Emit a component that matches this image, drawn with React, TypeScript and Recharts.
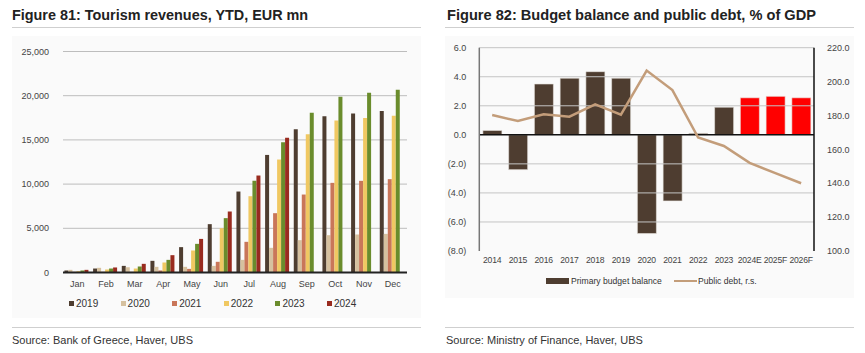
import React from 'react';
import { BarChart, Bar, XAxis, YAxis, CartesianGrid, ComposedChart, Line, Cell, ReferenceLine } from 'recharts';

// ---------- Figure 81 data ----------
const months = ['Jan', 'Feb', 'Mar', 'Apr', 'May', 'Jun', 'Jul', 'Aug', 'Sep', 'Oct', 'Nov', 'Dec'];
const rev2019 = [230, 450, 750, 1320, 2870, 5470, 9160, 13300, 16210, 17680, 17980, 18280];
const rev2020 = [300, 530, 600, 640, 640, 750, 1430, 2790, 3660, 4220, 4300, 4370];
const rev2021 = [75, 75, 75, 230, 410, 1210, 3470, 6710, 8820, 10140, 10370, 10560];
const rev2022 = [150, 340, 450, 1130, 2490, 5010, 8630, 12780, 15650, 17190, 17490, 17720];
const rev2023 = [230, 450, 680, 1430, 3240, 6150, 10370, 14740, 18060, 19870, 20320, 20660];
const rev2024 = [300, 570, 980, 1960, 3800, 6900, 10970, 15230, null, null, null, null];
const tourismYears = ['2019', '2020', '2021', '2022', '2023', '2024'];
const tourismTicks = [0, 5000, 10000, 15000, 20000, 25000];

// ---------- Figure 82 data ----------
const fiscalYears = ['2014', '2015', '2016', '2017', '2018', '2019', '2020', '2021', '2022', '2023', '2024E', '2025F', '2026F'];
const primaryBalance = [0.3, -2.4, 3.5, 3.9, 4.35, 3.9, -6.8, -4.55, 0.1, 1.9, 2.55, 2.65, 2.55];
const publicDebt = [180.3, 176.7, 180.7, 179.3, 186.5, 180.5, 206.5, 195, 167, 162, 152, 146, 140];
const balanceTicks = [-8, -6, -4, -2, 0, 2, 4, 6];
const debtTicks = [100, 120, 140, 160, 180, 200, 220];

const tourismColors = ['#4e3d30', '#d6c19f', '#c97659', '#f0c862', '#6a8c2c', '#992b1f'];
const FONT = '"Liberation Sans", Arial, sans-serif';

const tourismData = months.map((m, i) => ({
  month: m,
  y2019: rev2019[i],
  y2020: rev2020[i],
  y2021: rev2021[i],
  y2022: rev2022[i],
  y2023: rev2023[i],
  y2024: rev2024[i],
}));

const fiscalData = fiscalYears.map((y, i) => ({
  year: y,
  balance: primaryBalance[i],
  debt: publicDebt[i],
}));

const fmtThousands = (v: number) => v.toLocaleString('en-US');
const fmtParen = (v: number) => (v < 0 ? `(${Math.abs(v).toFixed(1)})` : v.toFixed(1));

const tickStyle = { fontSize: 9, fill: '#444', fontFamily: FONT };
const xTickRight = { fontSize: 8.6, fill: '#444', fontFamily: FONT, letterSpacing: -0.2 };

export default function App() {
  return (
    <div style={{ position: 'absolute', left: 0, top: 0, width: 865, height: 353, background: '#fff', fontFamily: FONT, color: '#222', overflow: 'hidden' }}>
      {/* Left figure */}
      <div style={{ position: 'absolute', left: 12, top: 7, fontSize: 14.4, fontWeight: 'bold', whiteSpace: 'nowrap' }}>
        Figure 81: Tourism revenues, YTD, EUR mn
      </div>
      <div style={{ position: 'absolute', left: 12, top: 27, width: 409, height: 1, background: '#cfcfcf' }} />
      <div style={{ position: 'absolute', left: 12, top: 36, width: 409, height: 282, background: '#fafafa' }} />
      <div style={{ position: 'absolute', left: 0, top: 0 }}>
        <BarChart width={421} height={320} data={tourismData} margin={{ top: 51.5, right: 14, bottom: 27.5, left: 0 }} barCategoryGap="5%" barGap={0}>
          <CartesianGrid vertical={false} stroke="#bdbdbd" strokeWidth={1} />
          <XAxis dataKey="month" height={20} tickLine={false} axisLine={{ stroke: '#222', strokeWidth: 2 }} tick={tickStyle} tickMargin={2} interval={0} />
          <YAxis width={63} domain={[0, 25000]} ticks={tourismTicks} tickFormatter={fmtThousands} axisLine={false} tickLine={false} tick={tickStyle} tickMargin={8} />
          {tourismYears.map((y, i) => (
            <Bar key={y} dataKey={`y${y}`} fill={tourismColors[i]} isAnimationActive={false} />
          ))}
        </BarChart>
      </div>
      {tourismYears.map((y, i) => (
        <div key={y} style={{ position: 'absolute', left: 69 + i * 51.6, top: 297, height: 12, display: 'flex', alignItems: 'center', fontSize: 10, color: '#333' }}>
          <span style={{ display: 'inline-block', width: 5, height: 5, background: tourismColors[i], marginRight: 2 }} />
          {y}
        </div>
      ))}
      <div style={{ position: 'absolute', left: 12, top: 327, width: 409, height: 1, background: '#cfcfcf' }} />
      <div style={{ position: 'absolute', left: 12, top: 334, fontSize: 11, whiteSpace: 'nowrap', color: '#333' }}>
        Source: Bank of Greece, Haver, UBS
      </div>

      {/* Right figure */}
      <div style={{ position: 'absolute', left: 447, top: 7, fontSize: 14.6, fontWeight: 'bold', whiteSpace: 'nowrap' }}>
        Figure 82: Budget balance and public debt, % of GDP
      </div>
      <div style={{ position: 'absolute', left: 445, top: 27, width: 409, height: 1, background: '#cfcfcf' }} />
      <div style={{ position: 'absolute', left: 445, top: 36, width: 409, height: 262, background: '#fafafa' }} />
      <div style={{ position: 'absolute', left: 430, top: 0 }}>
        <ComposedChart width={425} height={300} data={fiscalData} margin={{ top: 47.7, right: 0, bottom: 29, left: 0 }} barCategoryGap="14%">
          {balanceTicks.filter((t) => t !== 0 && t !== -8).map((t) => (
            <ReferenceLine key={t} yAxisId="left" y={t} stroke="#c4c4c4" strokeWidth={1} />
          ))}
          <XAxis dataKey="year" height={20} tickLine={false} axisLine={false} tick={xTickRight} tickMargin={0} interval={0} />
          <YAxis yAxisId="left" width={49.3} domain={[-8, 6]} ticks={balanceTicks} tickFormatter={fmtParen} axisLine={{ stroke: '#777', strokeWidth: 1.5 }} tickLine={false} tick={tickStyle} tickMargin={7} />
          <YAxis yAxisId="right" orientation="right" width={41} domain={[100, 220]} ticks={debtTicks} tickFormatter={(v: number) => v.toFixed(1)} axisLine={{ stroke: '#111', strokeWidth: 1.5 }} tickLine={false} tick={tickStyle} tickMargin={7} />
          <Bar yAxisId="left" dataKey="balance" isAnimationActive={false} stroke="#e8e4df" strokeWidth={0.6}>
            {fiscalData.map((d) => (
              <Cell key={d.year} fill={/[EF]$/.test(d.year) ? '#ff0000' : '#4e3d30'} />
            ))}
          </Bar>
          <ReferenceLine yAxisId="left" y={0} stroke="#111" strokeWidth={1.5} />
          <Line yAxisId="right" type="linear" dataKey="debt" stroke="#c39d7a" strokeWidth={2.5} dot={false} isAnimationActive={false} />
        </ComposedChart>
      </div>
      <div style={{ position: 'absolute', left: 546, top: 275, height: 12, display: 'flex', alignItems: 'center', fontSize: 8.6, color: '#333', whiteSpace: 'nowrap' }}>
        <span style={{ display: 'inline-block', width: 23, height: 6, background: '#4e3d30', marginRight: 2 }} />
        Primary budget balance
      </div>
      <div style={{ position: 'absolute', left: 674, top: 275, height: 12, display: 'flex', alignItems: 'center', fontSize: 8.6, color: '#333', whiteSpace: 'nowrap' }}>
        <span style={{ display: 'inline-block', width: 23, height: 2.5, background: '#c39d7a', marginRight: 1 }} />
        Public debt, r.s.
      </div>
      <div style={{ position: 'absolute', left: 445, top: 327, width: 409, height: 1, background: '#cfcfcf' }} />
      <div style={{ position: 'absolute', left: 446, top: 334, fontSize: 11, whiteSpace: 'nowrap', color: '#333' }}>
        Source: Ministry of Finance, Haver, UBS
      </div>
    </div>
  );
}
